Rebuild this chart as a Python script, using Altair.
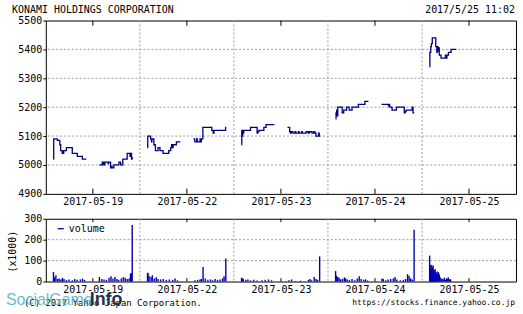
import json
import altair as alt
import pandas as pd

# ---------------- data ----------------
dates = ["2017-05-19", "2017-05-22", "2017-05-23", "2017-05-24", "2017-05-25"]

# price (step) per session
p0_am_time = ["9:00","9:01","9:18","9:29","9:33","9:40","9:42","9:44","9:47","9:59","10:26","10:49","11:12","11:30"]
p0_am_price = [5020,5090,5085,5070,5050,5040,5045,5040,5050,5060,5040,5030,5020,5020]
p0_pm_time = ["12:30","12:43","12:46","12:50","12:52","12:55","13:10","13:12","13:21","13:25","13:28","13:36","13:59","14:07","14:17","14:37","14:50","14:52","14:57","14:59","15:00"]
p0_pm_price = [5000,5010,5000,5010,5000,5010,5005,5010,4990,4995,4990,5000,5010,5000,5020,5040,5030,5040,5020,5025,5020]

p1_am_time = ["9:00","9:01","9:14","9:18","9:20","9:29","9:36","9:48","9:57","10:11","10:37","10:46","10:50","10:52","10:57","11:12","11:30"]
p1_am_price = [5060,5100,5090,5080,5090,5070,5050,5060,5050,5040,5050,5060,5070,5060,5070,5080,5080]
p1_pm_time = ["12:30","12:36","12:45","12:48","13:00","13:03","13:06","13:13","13:54","14:00","14:04","14:57","15:00"]
p1_pm_price = [5090,5080,5090,5080,5090,5080,5090,5130,5120,5110,5120,5130,5130]

p2_am_time = ["9:00","9:01","9:03","9:05","9:08","9:10","9:41","10:11","10:14","10:19","10:42","10:52","11:30"]
p2_am_price = [5070,5120,5100,5120,5110,5120,5130,5110,5115,5120,5130,5140,5140]
p2_pm_time = ["12:30","12:40","12:44","12:47","12:55","13:05","13:08","13:20","13:23","13:35","13:38","13:55","14:05","14:10","14:22","14:30","14:35","14:40","14:52","14:55","15:00"]
p2_pm_price = [5130,5115,5110,5115,5110,5115,5110,5115,5110,5115,5110,5115,5110,5115,5110,5115,5110,5100,5110,5100,5100]

p3_am_time = ["9:00","9:02","9:05","9:07","9:10","9:30","9:37","9:50","10:02","10:15","10:44","11:14","11:30"]
p3_am_price = [5160,5180,5190,5170,5200,5180,5190,5200,5190,5200,5210,5220,5220]
p3_pm_time = ["12:30","13:02","13:05","13:07","13:18","13:38","14:14","14:18","14:22","14:50","14:54","15:00"]
p3_pm_price = [5210,5205,5210,5200,5190,5200,5180,5185,5190,5200,5180,5180]

p4_am_time = ["9:00","9:01","9:05","9:08","9:12","9:28","9:33","9:35","9:38","9:41","9:44","9:52","10:12","10:15","10:19","10:26","10:38","11:02"]
p4_am_price = [5340,5390,5410,5420,5440,5410,5390,5410,5395,5405,5380,5370,5380,5370,5380,5390,5400,5400]

# volume (x1000)
v0_time = ["9:00","9:04","9:11","9:19","9:26","9:34","9:41","9:48","9:59","10:11","10:26","10:37","10:48","11:03","11:13","11:22",
           "12:30","12:41","12:51","13:02","13:14","13:23","13:32","13:41","13:50","13:58","14:10","14:19","14:28","14:37","14:46","14:52","14:56","15:00"]
v0_vol = [45,20,30,12,15,10,18,12,8,10,6,12,8,10,14,8,
          22,12,10,8,18,25,15,22,12,8,15,20,18,12,15,38,40,270]
v1_time = ["9:00","9:02","9:07","9:16","9:22","9:31","9:40","9:48","10:00","10:12","10:26","10:40","10:55","11:06","11:17",
           "12:37","12:49","13:00","13:06","13:14","13:24","13:36","13:48","13:58","14:09","14:20","14:32","14:43","14:50","14:58"]
v1_vol = [40,42,28,22,30,15,20,12,10,12,8,10,8,15,6,
          6,8,10,12,70,15,8,10,6,12,8,10,15,25,110]
v2_time = ["9:00","9:03","9:08","9:19","9:29","9:41","9:56","10:11","10:33","10:48","11:03","11:17",
           "12:37","12:49","13:07","13:29","14:06","14:13","14:20","14:32","14:41","14:47","14:57"]
v2_vol = [18,16,12,8,10,6,8,5,6,8,10,6,
          6,10,3,4,8,12,6,22,12,8,120]
v3_time = ["9:00","9:04","9:10","9:16","9:23","9:31","9:40","9:46","9:53","10:03","10:15","10:27","10:39","10:48","10:57","11:09","11:17","11:26",
           "12:32","12:38","12:49","13:00","13:12","13:24","13:32","13:40","13:56","14:10","14:20","14:29","14:36","14:43","14:50","14:59"]
v3_vol = [50,28,22,18,10,12,20,15,10,8,12,6,15,25,12,8,10,5,
          15,12,6,10,12,15,22,10,6,8,12,35,28,15,10,248]
v4_time = ["9:00","9:03","9:05","9:07","9:10","9:12","9:14","9:16","9:18","9:20","9:23","9:25","9:27","9:29","9:32","9:34","9:37","9:40",
           "9:44","9:48","9:53","9:57","10:02","10:07","10:12","10:17","10:21","10:25","10:29","10:33","10:36"]
v4_vol = [124,76,60,80,55,70,62,78,50,55,45,60,40,42,35,48,30,45,
          35,20,15,12,10,18,8,15,12,20,10,12,8]

price_ticks = [4900, 5000, 5100, 5200, 5300, 5400, 5500]
price_grid = [5000, 5100, 5200, 5300, 5400]
vol_ticks = [0, 100, 200, 300]
vol_grid = [100, 200]

title_text = "KONAMI HOLDINGS CORPORATION"
stamp_text = "2017/5/25 11:02"
copyright_text = "(C) 2017 Yahoo Japan Corporation."
url_text = "https://stocks.finance.yahoo.co.jp"

# ---------------- helpers ----------------
DAY = 430            # minutes shown per trading day (8:25 - 15:35)
ORIGIN = 8 * 60 + 25
NDAYS = len(dates)


def xpos(day, hhmm):
    h, m = hhmm.split(":")
    return day * DAY + int(h) * 60 + int(m) - ORIGIN


sessions = [
    (0, "am", p0_am_time, p0_am_price), (0, "pm", p0_pm_time, p0_pm_price),
    (1, "am", p1_am_time, p1_am_price), (1, "pm", p1_pm_time, p1_pm_price),
    (2, "am", p2_am_time, p2_am_price), (2, "pm", p2_pm_time, p2_pm_price),
    (3, "am", p3_am_time, p3_am_price), (3, "pm", p3_pm_time, p3_pm_price),
    (4, "am", p4_am_time, p4_am_price),
]
rows = []
for d, s, ts, ps in sessions:
    for t, p in zip(ts, ps):
        rows.append({"x": xpos(d, t), "price": p, "session": f"{d}{s}"})
price_df = pd.DataFrame(rows)

vrows = []
for d, (ts, vs) in enumerate([(v0_time, v0_vol), (v1_time, v1_vol), (v2_time, v2_vol),
                              (v3_time, v3_vol), (v4_time, v4_vol)]):
    for t, v in zip(ts, vs):
        vrows.append({"x": xpos(d, t), "vol": v})
vol_df = pd.DataFrame(vrows)

tick_x = [DAY * i + DAY / 2 for i in range(NDAYS)]
bound_x = [DAY * i for i in range(1, NDAYS)]
label_expr = "%s[round((datum.value - %d) / %d)]" % (json.dumps(dates), DAY // 2, DAY)

MONO = "DejaVu Sans Mono"
NAVY = "#000080"
GRID = "#9a9a9a"
W = 472

xscale = alt.Scale(domain=[0, DAY * NDAYS], nice=False, zero=False)
xaxis = alt.Axis(values=tick_x, labelExpr=label_expr, grid=False, domain=False, ticks=False,
                 labelPadding=3, labelFlush=False, labelOverlap=False, title=None)

# ---------------- price panel ----------------
pscale = alt.Scale(domain=[4900, 5500], nice=False, zero=False)
pyaxis = alt.Axis(values=price_ticks, format="d", grid=False, domain=False, ticks=True, tickSize=3,
                  tickColor="black", labelPadding=1, labelOverlap=False, labelFlush=False, title=None)


def PX(field):
    return alt.X(field, scale=xscale, axis=xaxis)


def PY(field):
    return alt.Y(field, scale=pscale, axis=pyaxis)


anchor = alt.Chart(pd.DataFrame({"a": [0]})).mark_rect(opacity=0).encode(
    x=alt.value(-45), x2=alt.value(W + 6), y=alt.value(-19), y2=alt.value(295))

p_hgrid = alt.Chart(pd.DataFrame({"v": price_grid})).mark_rule(
    color=GRID, strokeDash=[2, 2], strokeWidth=1).encode(y=PY("v:Q"))
p_vgrid = alt.Chart(pd.DataFrame({"b": bound_x})).mark_rule(
    color=GRID, strokeDash=[2, 2], strokeWidth=1).encode(x=PX("b:Q"))
p_ticks_df = pd.DataFrame({"t": tick_x * 2,
                           "y0": [4900] * NDAYS + [5482] * NDAYS,
                           "y1": [4918] * NDAYS + [5500] * NDAYS})
p_ticks = alt.Chart(p_ticks_df).mark_rule(color="black").encode(
    x=PX("t:Q"), y=PY("y0:Q"), y2="y1:Q")
p_rticks_df = pd.DataFrame({"v": price_grid, "x0": [DAY * NDAYS - 12] * len(price_grid),
                            "x1": [DAY * NDAYS] * len(price_grid)})
p_rticks = alt.Chart(p_rticks_df).mark_rule(color="black").encode(
    x=PX("x0:Q"), x2="x1:Q", y=PY("v:Q"))
p_line = alt.Chart(price_df).mark_line(interpolate="step-after", color=NAVY, strokeWidth=1.3).encode(
    x=PX("x:Q"), y=PY("price:Q"), detail="session:N")

p_title = alt.Chart(pd.DataFrame({"t": [title_text]})).mark_text(
    font=MONO, fontSize=10, align="left", baseline="middle", color="black").encode(
    text="t:N", x=alt.value(-34), y=alt.value(-11))
p_stamp = alt.Chart(pd.DataFrame({"t": [stamp_text]})).mark_text(
    font=MONO, fontSize=10, align="right", baseline="middle", color="black").encode(
    text="t:N", x=alt.value(W - 1), y=alt.value(-11))

price_chart = alt.layer(anchor, p_hgrid, p_vgrid, p_ticks, p_rticks, p_line, p_title, p_stamp).properties(
    width=W, height=174)

# ---------------- volume panel ----------------
vscale = alt.Scale(domain=[0, 300], nice=False, zero=True)
vyaxis = alt.Axis(values=vol_ticks, format="d", grid=False, domain=False, ticks=True, tickSize=3,
                  tickColor="black", labelPadding=1, labelOverlap=False, labelFlush=False, title=None)


def VY(field):
    return alt.Y(field, scale=vscale, axis=vyaxis)


v_hgrid = alt.Chart(pd.DataFrame({"v": vol_grid})).mark_rule(
    color=GRID, strokeDash=[2, 2], strokeWidth=1).encode(y=VY("v:Q"))
v_vgrid = alt.Chart(pd.DataFrame({"b": bound_x})).mark_rule(
    color=GRID, strokeDash=[2, 2], strokeWidth=1).encode(x=PX("b:Q"))
v_ticks_df = pd.DataFrame({"t": tick_x * 2,
                           "y0": [0] * NDAYS + [284] * NDAYS,
                           "y1": [16] * NDAYS + [300] * NDAYS})
v_ticks = alt.Chart(v_ticks_df).mark_rule(color="black").encode(
    x=PX("t:Q"), y=VY("y0:Q"), y2="y1:Q")
v_bars = alt.Chart(vol_df).mark_rule(color="#0000b4", strokeWidth=1.4).encode(
    x=PX("x:Q"), y=VY("vol:Q"), y2=alt.datum(0))

leg_line = alt.Chart(pd.DataFrame({"a": [0]})).mark_rule(color=NAVY, strokeWidth=1.3).encode(
    x=alt.value(12), x2=alt.value(18), y=alt.value(10))
leg_text = alt.Chart(pd.DataFrame({"t": ["volume"]})).mark_text(
    font=MONO, fontSize=10, align="left", baseline="middle", color="black").encode(
    text="t:N", x=alt.value(23), y=alt.value(10))
unit_text = alt.Chart(pd.DataFrame({"t": ["(x1000)"]})).mark_text(
    font=MONO, fontSize=10, align="center", baseline="middle", angle=270, color="black").encode(
    text="t:N", x=alt.value(-33), y=alt.value(33))
copy_text = alt.Chart(pd.DataFrame({"t": [copyright_text]})).mark_text(
    font=MONO, fontSize=9, align="left", baseline="middle", color="black").encode(
    text="t:N", x=alt.value(-22), y=alt.value(85))
url = alt.Chart(pd.DataFrame({"t": [url_text]})).mark_text(
    font=MONO, fontSize=8, align="right", baseline="middle", color="black").encode(
    text="t:N", x=alt.value(W - 1), y=alt.value(85))
wm1 = alt.Chart(pd.DataFrame({"t": ["SocialGame"]})).mark_text(
    font="Liberation Sans", fontSize=16, align="left", baseline="alphabetic", color="#5bb5c9",
    opacity=0.9).encode(text="t:N", x=alt.value(-40), y=alt.value(87))
wm2 = alt.Chart(pd.DataFrame({"t": ["Info"]})).mark_text(
    font="Liberation Sans", fontSize=18, fontWeight="bold", align="left", baseline="alphabetic",
    color="#1f3350").encode(text="t:N", x=alt.value(44), y=alt.value(87))

vol_chart = alt.layer(v_hgrid, v_vgrid, v_ticks, v_bars, leg_line, leg_text, unit_text,
                      copy_text, url, wm1, wm2).properties(width=W, height=63)

chart = alt.vconcat(price_chart, vol_chart, spacing=25, bounds="flush").properties(
    padding={"left": 0, "top": 0, "right": 0, "bottom": 0}, background="white"
).configure_view(stroke="black", strokeWidth=1).configure_axis(
    labelFont=MONO, labelFontSize=10, labelColor="black"
)

chart.save("out.html", embed_options={"renderer": "svg", "actions": False})
